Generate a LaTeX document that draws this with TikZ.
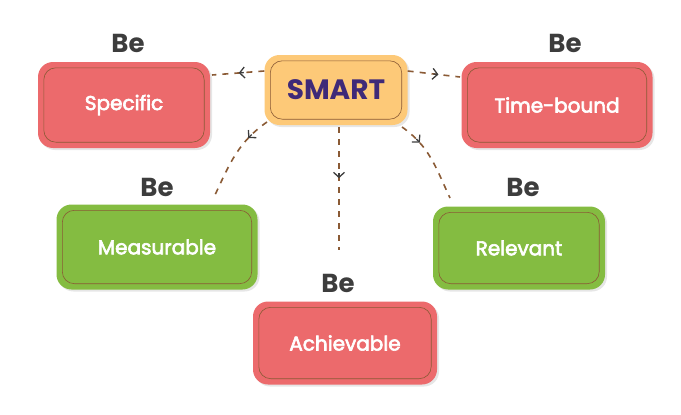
\documentclass[tikz,border=0pt]{standalone}
\usepackage{fontspec}
\setmainfont{Poppins}
\newfontfamily\pmed[FakeBold=3]{Poppins}
\usetikzlibrary{decorations.markings,arrows.meta,shadows}
\definecolor{red1}{HTML}{EC6A6C}
\definecolor{grn1}{HTML}{84BC41}
\definecolor{org1}{HTML}{FDC978}
\definecolor{brn}{HTML}{8A5A35}
\definecolor{ink}{HTML}{3F2A78}
\definecolor{begray}{HTML}{3D3D3D}
\tikzset{
 boxbase/.style={rounded corners=15pt, draw=none, text=white, font=\pmed\fontsize{20}{24}\selectfont,
   drop shadow={shadow xshift=2pt,shadow yshift=-2pt,opacity=0.2}},
 redbox/.style={boxbase, fill=red1},
 grnbox/.style={boxbase, fill=grn1},
 smartbox/.style={boxbase, fill=org1, text=ink, font=\bfseries\fontsize{28}{32}\selectfont},
 innerb/.style={draw=brn, line width=0.6pt, rounded corners=12pt},
 belabel/.style={text=begray, font=\bfseries\fontsize{26}{30}\selectfont},
 conn/.style={draw=brn, line width=1.6pt, dash pattern=on 6pt off 6pt,
   postaction={decorate, decoration={markings, mark=at position #1 with {\draw[solid,begray,line width=1.3pt,-{Straight Barb[length=5pt,width=11pt]}] (-3pt,0)--(2pt,0);}}}},
}
\begin{document}
\begin{tikzpicture}[x=1pt,y=-1pt]
\useasboundingbox (0,0) rectangle (681,415);
\node[smartbox, minimum width=143pt, minimum height=70pt] (smart) at (336,90) {SMART};
\node[redbox, minimum width=172pt, minimum height=86pt] (spec) at (124,105) {Specific};
\node[redbox, minimum width=191pt, minimum height=86pt] (time) at (557,105) {Time-bound};
\node[grnbox, minimum width=201pt, minimum height=85pt] (meas) at (157,247) {Measurable};
\node[grnbox, minimum width=172pt, minimum height=83pt] (rel) at (519,248) {Relevant};
\node[redbox, minimum width=184pt, minimum height=83pt] (ach) at (345,343) {Achievable};
\foreach \n in {smart,spec,time,meas,rel,ach}
  \draw[innerb] ([shift={(6pt,6pt)}]\n.south west) rectangle ([shift={(-6pt,-6pt)}]\n.north east);
\node[belabel] (b1) at (128,43) {Be};
\node[belabel] (b2) at (565,43) {Be};
\node[belabel] (b3) at (157,187) {Be};
\node[belabel] (b4) at (523,187) {Be};
\node[belabel] (b5) at (338,283) {Be};
\coordinate (e1) at (212,75);
\coordinate (e2) at (460,77);
\coordinate (e3) at (215,195);
\coordinate (e4) at (339,250);
\coordinate (e5) at (450,198);
\path[conn=0.45] (smart.west |- 0,71) -- (e1);
\path[conn=0.55] (smart.east |- 0,71) -- (e2);
\path[conn=0.25] (267,122) to[out=215,in=65] (e3);
\path[conn=0.4] (339,127) -- (e4);
\path[conn=0.25] (402,127) to[out=-35,in=115] (e5);
\end{tikzpicture}
\end{document}
